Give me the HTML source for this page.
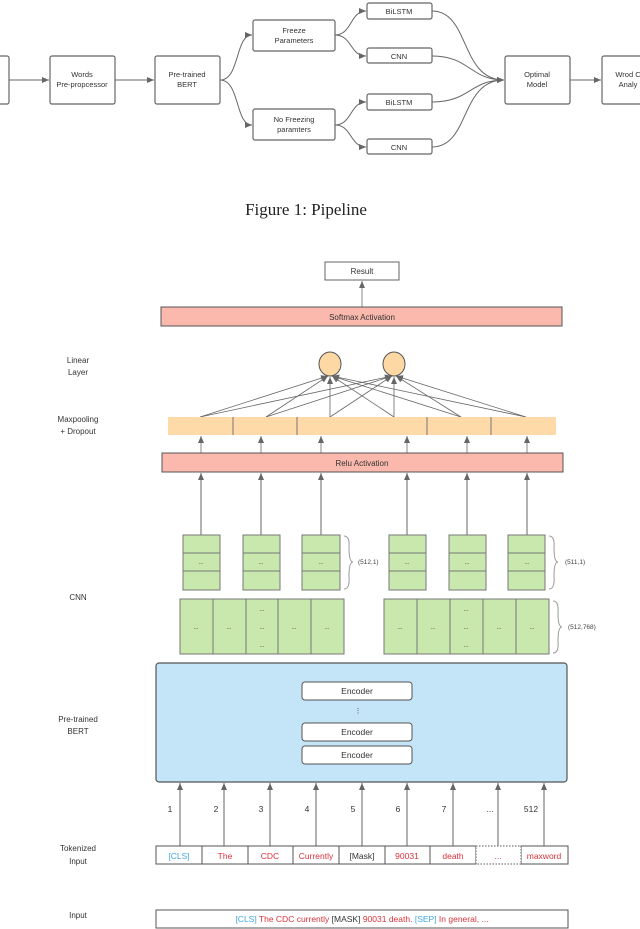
<!DOCTYPE html>
<html><head><meta charset="utf-8"><style>
html,body{margin:0;padding:0;background:#fff;}
svg{display:block;font-family:"Liberation Sans",sans-serif;}
</style></head><body>
<svg width="640" height="929" viewBox="0 0 640 929" xmlns="http://www.w3.org/2000/svg">
<defs>
<marker id="a" markerWidth="8" markerHeight="8" refX="7" refY="4" orient="auto" markerUnits="userSpaceOnUse"><path d="M0,1 L7,4 L0,7 z" fill="#666"/></marker>
</defs>
<g fill="#fff" stroke="#666" stroke-width="1.2">
<rect x="-5" y="56" width="14" height="48" rx="2"/>
<rect x="50" y="56" width="65" height="48" rx="2"/>
<rect x="155" y="56" width="65" height="48" rx="2"/>
<rect x="253" y="20" width="82" height="31" rx="2"/>
<rect x="253" y="109" width="82" height="31" rx="2"/>
<rect x="367" y="3" width="65" height="16" rx="2"/>
<rect x="367" y="48" width="65" height="15" rx="2"/>
<rect x="367" y="94" width="65" height="16" rx="2"/>
<rect x="367" y="139" width="65" height="15" rx="2"/>
<rect x="505" y="56" width="65" height="48" rx="2"/>
<rect x="602" y="56" width="50" height="48" rx="2"/>
</g>
<g fill="none" stroke="#666" stroke-width="1">
<line x1="9" y1="80" x2="49" y2="80" marker-end="url(#a)"/>
<line x1="115" y1="80" x2="154" y2="80" marker-end="url(#a)"/>
<line x1="570" y1="80" x2="601" y2="80" marker-end="url(#a)"/>
<path d="M220,80 C240,80 235,35 252,35" marker-end="url(#a)"/>
<path d="M220,80 C240,80 235,125 252,125" marker-end="url(#a)"/>
<path d="M335,35 C352,35 350,11 366,11" marker-end="url(#a)"/>
<path d="M335,35 C352,35 350,56 366,56" marker-end="url(#a)"/>
<path d="M335,125 C352,125 350,102 366,102" marker-end="url(#a)"/>
<path d="M335,125 C352,125 350,147 366,147" marker-end="url(#a)"/>
<path d="M432,11 C470,11 460,80 504,80" marker-end="url(#a)"/>
<path d="M432,56 C470,56 470,80 504,80" marker-end="url(#a)"/>
<path d="M432,102 C470,102 470,80 504,80" marker-end="url(#a)"/>
<path d="M432,147 C470,147 460,80 504,80" marker-end="url(#a)"/>
</g>
<g font-size="7.5" fill="#333" text-anchor="middle">
<text x="82" y="77">Words</text><text x="82" y="87">Pre-propcessor</text>
<text x="187" y="77">Pre-trained</text><text x="187" y="87">BERT</text>
<text x="294" y="33">Freeze</text><text x="294" y="43">Parameters</text>
<text x="294" y="122">No Freezing</text><text x="294" y="132">paramters</text>
<text x="399" y="14">BiLSTM</text><text x="399" y="59">CNN</text>
<text x="399" y="105">BiLSTM</text><text x="399" y="150">CNN</text>
<text x="537" y="77">Optimal</text><text x="537" y="87">Model</text>
<text x="628" y="77">Wrod C</text><text x="628" y="87">Analy</text>
</g>
<text x="306" y="215" font-family="Liberation Serif,serif" font-size="17" text-anchor="middle" fill="#222">Figure 1: Pipeline</text>

<!-- second figure -->
<rect x="325" y="262" width="74" height="18" fill="#fff" stroke="#666"/>
<text x="362" y="274" font-size="8" text-anchor="middle" fill="#333">Result</text>
<line x1="362" y1="307" x2="362" y2="281" stroke="#888" marker-end="url(#a)"/>
<rect x="161" y="307" width="401" height="19" fill="#fbb8ad" stroke="#555"/>
<text x="362" y="320" font-size="8" text-anchor="middle" fill="#333">Softmax Activation</text>

<g font-size="8" text-anchor="middle" fill="#333">
<text x="78" y="363">Linear</text><text x="78" y="375">Layer</text>
<text x="78" y="422">Maxpooling</text><text x="78" y="434">+ Dropout</text>
<text x="78" y="600">CNN</text>
<text x="78" y="722">Pre-trained</text><text x="78" y="734">BERT</text>
<text x="78" y="851">Tokenized</text><text x="78" y="864">Input</text>
<text x="78" y="918">Input</text>
</g>

<g stroke="#666" stroke-width="0.8" fill="none">
<line x1="200" y1="417" x2="328" y2="376" marker-end="url(#a)"/>
<line x1="266" y1="417" x2="328" y2="376" marker-end="url(#a)"/>
<line x1="330" y1="417" x2="330" y2="377" marker-end="url(#a)"/>
<line x1="394" y1="417" x2="332" y2="376" marker-end="url(#a)"/>
<line x1="461" y1="417" x2="332" y2="376" marker-end="url(#a)"/>
<line x1="526" y1="417" x2="332" y2="376" marker-end="url(#a)"/>
<line x1="200" y1="417" x2="392" y2="376" marker-end="url(#a)"/>
<line x1="266" y1="417" x2="392" y2="376" marker-end="url(#a)"/>
<line x1="330" y1="417" x2="392" y2="376" marker-end="url(#a)"/>
<line x1="394" y1="417" x2="394" y2="377" marker-end="url(#a)"/>
<line x1="461" y1="417" x2="396" y2="376" marker-end="url(#a)"/>
<line x1="526" y1="417" x2="396" y2="376" marker-end="url(#a)"/>
</g>
<ellipse cx="330" cy="364" rx="11" ry="12" fill="#fdd8a5" stroke="#555"/>
<ellipse cx="394" cy="364" rx="11" ry="12" fill="#fdd8a5" stroke="#555"/>

<rect x="168" y="417" width="388" height="18" fill="#fddaa8"/>
<g stroke="#777"><line x1="233" y1="417" x2="233" y2="435"/><line x1="297" y1="417" x2="297" y2="435"/><line x1="427" y1="417" x2="427" y2="435"/><line x1="491" y1="417" x2="491" y2="435"/></g>

<g stroke="#888" fill="none">
<line x1="201" y1="453" x2="201" y2="436" marker-end="url(#a)"/>
<line x1="261" y1="453" x2="261" y2="436" marker-end="url(#a)"/>
<line x1="321" y1="453" x2="321" y2="436" marker-end="url(#a)"/>
<line x1="407" y1="453" x2="407" y2="436" marker-end="url(#a)"/>
<line x1="467" y1="453" x2="467" y2="436" marker-end="url(#a)"/>
<line x1="527" y1="453" x2="527" y2="436" marker-end="url(#a)"/>
</g>
<rect x="162" y="453" width="401" height="19" fill="#fbb8ad" stroke="#555"/>
<text x="362" y="466" font-size="8" text-anchor="middle" fill="#333">Relu Activation</text>

<g stroke="#666" fill="none">
<line x1="201" y1="535" x2="201" y2="473" marker-end="url(#a)"/>
<line x1="261" y1="535" x2="261" y2="473" marker-end="url(#a)"/>
<line x1="321" y1="535" x2="321" y2="473" marker-end="url(#a)"/>
<line x1="407" y1="535" x2="407" y2="473" marker-end="url(#a)"/>
<line x1="467" y1="535" x2="467" y2="473" marker-end="url(#a)"/>
<line x1="527" y1="535" x2="527" y2="473" marker-end="url(#a)"/>
</g>

<g fill="#c8e8ae" stroke="#777">
<rect x="183" y="535" width="37" height="55"/><rect x="243" y="535" width="37" height="55"/><rect x="302" y="535" width="38" height="55"/>
<rect x="389" y="535" width="37" height="55"/><rect x="449" y="535" width="37" height="55"/><rect x="508" y="535" width="37" height="55"/>
</g>
<g stroke="#777">
<path d="M183,553H220M183,571H220M243,553H280M243,571H280M302,553H340M302,571H340M389,553H426M389,571H426M449,553H486M449,571H486M508,553H545M508,571H545"/>
</g>
<g font-size="6" text-anchor="middle" fill="#444">
<text x="201" y="564">...</text><text x="261" y="564">...</text><text x="321" y="564">...</text>
<text x="407" y="564">...</text><text x="467" y="564">...</text><text x="527" y="564">...</text>
</g>
<g stroke="#999" fill="none">
<path d="M344,536 Q350,536 349,548 Q349,562 353,562 Q349,562 349,576 Q350,589 344,589"/>
<path d="M549,536 Q555,536 554,548 Q554,562 558,562 Q554,562 554,576 Q555,589 549,589"/>
<path d="M553,601 Q559,601 558,613 Q558,627 562,627 Q558,627 558,641 Q559,653 553,653"/>
</g>
<g font-size="6.5" fill="#444">
<text x="358" y="564">(512,1)</text><text x="565" y="564">(511,1)</text><text x="568" y="629">(512,768)</text>
</g>

<g fill="#c8e8ae" stroke="#777">
<rect x="180" y="599" width="33" height="55"/><rect x="213" y="599" width="33" height="55"/><rect x="246" y="599" width="32" height="55"/><rect x="278" y="599" width="33" height="55"/><rect x="311" y="599" width="33" height="55"/>
<rect x="384" y="599" width="33" height="55"/><rect x="417" y="599" width="33" height="55"/><rect x="450" y="599" width="33" height="55"/><rect x="483" y="599" width="33" height="55"/><rect x="516" y="599" width="33" height="55"/>
</g>
<g font-size="6" text-anchor="middle" fill="#444">
<text x="196" y="629">...</text><text x="229" y="629">...</text><text x="262" y="611">...</text><text x="262" y="629">...</text><text x="262" y="647">...</text><text x="294" y="629">...</text><text x="327" y="629">...</text>
<text x="400" y="629">...</text><text x="433" y="629">...</text><text x="466" y="611">...</text><text x="466" y="629">...</text><text x="466" y="647">...</text><text x="499" y="629">...</text><text x="532" y="629">...</text>
</g>

<rect x="156" y="663" width="411" height="119" rx="3" fill="#c4e4f7" stroke="#555" stroke-width="1.2"/>
<g fill="#fff" stroke="#555"><rect x="302" y="682" width="110" height="18" rx="3"/><rect x="302" y="723" width="110" height="18" rx="3"/><rect x="302" y="746" width="110" height="18" rx="3"/></g>
<g font-size="8.5" text-anchor="middle" fill="#333"><text x="357" y="694">Encoder</text><text x="357" y="735">Encoder</text><text x="357" y="758">Encoder</text><text x="358" y="713" font-size="7">⋮</text></g>

<g stroke="#666" fill="none">
<line x1="180" y1="846" x2="180" y2="783" marker-end="url(#a)"/>
<line x1="224" y1="846" x2="224" y2="783" marker-end="url(#a)"/>
<line x1="270" y1="846" x2="270" y2="783" marker-end="url(#a)"/>
<line x1="316" y1="846" x2="316" y2="783" marker-end="url(#a)"/>
<line x1="362" y1="846" x2="362" y2="783" marker-end="url(#a)"/>
<line x1="407" y1="846" x2="407" y2="783" marker-end="url(#a)"/>
<line x1="453" y1="846" x2="453" y2="783" marker-end="url(#a)"/>
<line x1="498" y1="846" x2="498" y2="783" marker-end="url(#a)"/>
<line x1="544" y1="846" x2="544" y2="783" marker-end="url(#a)"/>
</g>
<g font-size="8.5" text-anchor="middle" fill="#333">
<text x="170" y="812">1</text><text x="216" y="812">2</text><text x="261" y="812">3</text><text x="307" y="812">4</text><text x="353" y="812">5</text><text x="398" y="812">6</text><text x="444" y="812">7</text><text x="490" y="812">...</text><text x="531" y="812">512</text>
</g>
<g fill="#fff" stroke="#555">
<rect x="156" y="846" width="46" height="18"/><rect x="202" y="846" width="46" height="18"/><rect x="248" y="846" width="45" height="18"/><rect x="293" y="846" width="46" height="18"/><rect x="339" y="846" width="46" height="18"/><rect x="385" y="846" width="45" height="18"/><rect x="430" y="846" width="46" height="18"/><rect x="521" y="846" width="47" height="18"/>
<rect x="476" y="846" width="45" height="18" stroke-dasharray="1.5,1.5"/>
</g>
<g font-size="8.5" text-anchor="middle" fill="#d8333b">
<text x="179" y="859" fill="#3fa6e0">[CLS]</text><text x="225" y="859">The</text><text x="270" y="859">CDC</text><text x="316" y="859">Currently</text><text x="362" y="859" fill="#333">[Mask]</text><text x="407" y="859">90031</text><text x="453" y="859">death</text><text x="498" y="859">...</text><text x="544" y="859">maxword</text>
</g>
<rect x="156" y="910" width="412" height="18" fill="#fff" stroke="#555"/>
<text x="362" y="922" font-size="8.5" text-anchor="middle" fill="#d8333b"><tspan fill="#3fa6e0">[CLS]</tspan> The CDC currently <tspan fill="#333">[MASK]</tspan> 90031 death. <tspan fill="#3fa6e0">[SEP]</tspan> In general, ...</text>
</svg>
</body></html>
